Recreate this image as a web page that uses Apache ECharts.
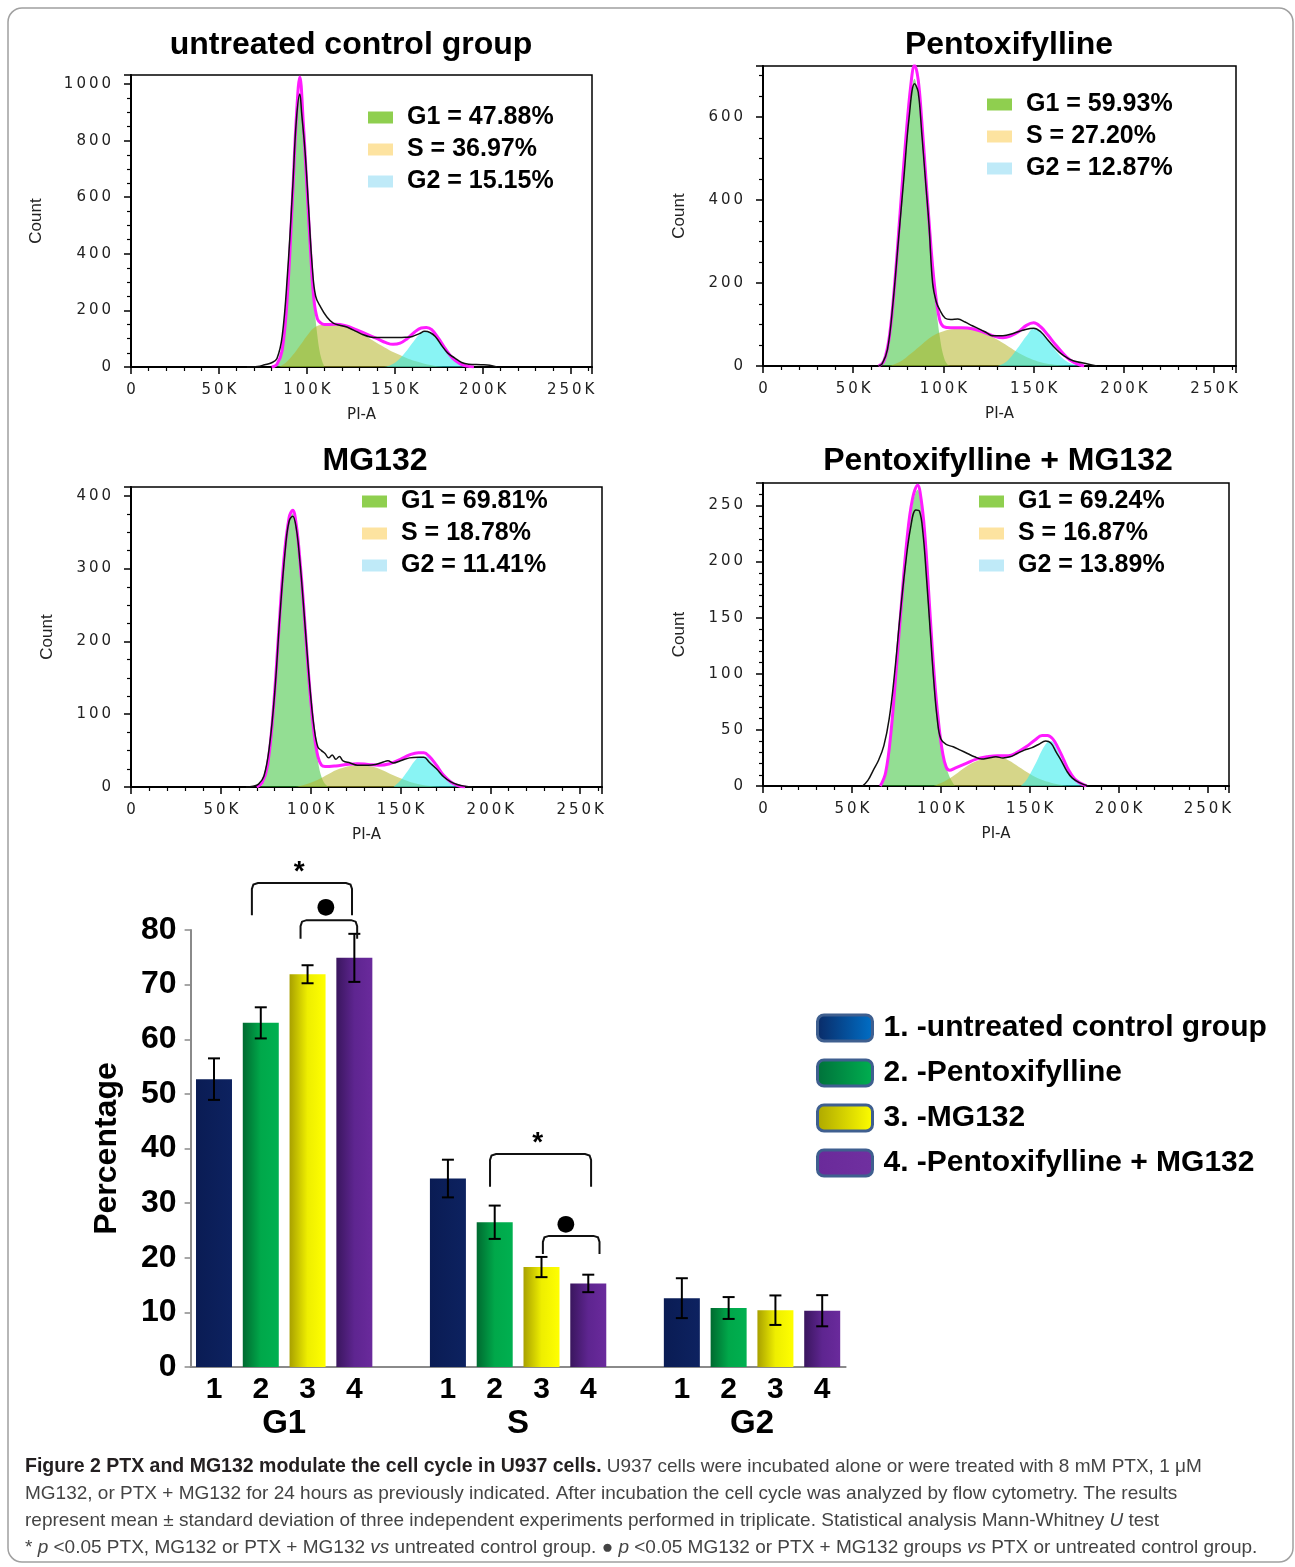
<!DOCTYPE html>
<html>
<head>
<meta charset="utf-8">
<title>PTX and MG132 modulate the cell cycle</title>
<script src="https://cdn.jsdelivr.net/npm/echarts@6/dist/echarts.min.js"></script>
<style>
html, body { margin: 0; padding: 0; background: #fff; }
#chart { width: 1295px; height: 1567px; }
</style>
</head>
<body>
<div id="chart"></div>
<script>
'use strict';

// ---- flow cytometry histograms (x = PI-A in K, y = count) ----
const histTitles = ['untreated control group', 'Pentoxifylline', 'MG132', 'Pentoxifylline + MG132'];
const histPhaseText = [
    ['G1 = 47.88%', 'S = 36.97%', 'G2 = 15.15%'],
    ['G1 = 59.93%', 'S = 27.20%', 'G2 = 12.87%'],
    ['G1 = 69.81%', 'S = 18.78%', 'G2 = 11.41%'],
    ['G1 = 69.24%', 'S = 16.87%', 'G2 = 13.89%']
];
const histYMax = [1032, 723, 412, 270];
const histYStep = [200, 200, 100, 50];
const histYMinor = [4, 4, 4, 5];
const xTicksK = [0, 50, 100, 150, 200, 250];

// untreated control
const ctlG1 = [[82,0],[85,40],[88,200],[90,420],[92,650],[94,860],[96,960],[98,830],[100,640],[102,430],[104,240],[106,110],[108,35],[110,0]];
const ctlS = [[84,0],[88,15],[92,42],[96,75],[100,110],[104,138],[108,148],[114,150],[120,146],[126,136],[132,115],[138,92],[144,70],[150,50],[156,34],[162,20],[168,10],[174,3],[178,0]];
const ctlG2 = [[144,0],[148,8],[152,25],[156,52],[160,85],[164,115],[167,127],[170,122],[174,96],[178,66],[182,38],[186,17],[190,4],[193,0]];
const ctlFit = [[80,0],[83,10],[86,60],[89,260],[92,620],[94,880],[96,1025],[98,860],[100,640],[102,420],[104,240],[106,170],[108,155],[110,150],[116,151],[122,146],[128,132],[134,116],[140,100],[145,86],[149,80],[153,84],[157,100],[161,122],[165,138],[168,140],[171,132],[175,100],[179,62],[183,30],[187,12],[191,3],[195,0]];
const ctlRaw = [[66,0],[72,2],[76,8],[80,15],[83,30],[86,110],[89,330],[92,640],[94,870],[96,965],[97,900],[99,760],[101,560],[103,360],[105,250],[108,210],[111,180],[115,155],[120,146],[124,138],[128,126],[132,114],[136,106],[140,104],[146,104],[152,104],[156,105],[160,108],[164,118],[167,126],[170,122],[173,108],[177,73],[180,50],[184,32],[188,16],[192,10],[199,8],[204,6],[208,0]];

// pentoxifylline
const ptxG1 = [[65,0],[68,20],[71,90],[73,190],[75,300],[77,400],[79,500],[81,600],[84,692],[86,650],[88,540],[90,430],[92,330],[94,220],[96,140],[98,70],[100,25],[102,5],[104,0]];
const ptxS = [[70,0],[76,10],[82,30],[88,52],[94,72],[100,84],[106,89],[112,90],[118,87],[124,77],[130,63],[136,47],[142,31],[148,18],[154,9],[160,4],[166,1],[170,0]];
const ptxG2 = [[130,0],[134,8],[138,25],[142,48],[146,72],[150,90],[153,88],[156,74],[160,50],[164,28],[168,12],[172,4],[176,0]];
const ptxFit = [[64,0],[67,12],[70,70],[73,200],[76,370],[79,540],[82,680],[84,725],[86,690],[88,590],[90,470],[92,350],[94,240],[96,160],[98,110],[100,95],[104,92],[110,92],[116,90],[122,82],[128,72],[133,68],[137,72],[142,84],[146,98],[150,104],[154,94],[158,74],[162,52],[166,32],[170,15],[174,5],[178,0]];
const ptxRaw = [[64,0],[66,5],[69,40],[72,150],[75,300],[78,450],[81,600],[84,680],[86,660],[88,560],[90,450],[92,340],[94,200],[96,155],[98,135],[101,115],[104,112],[108,113],[112,106],[116,97],[120,89],[124,80],[127,73],[133,73],[139,79],[144,86],[150,91],[154,82],[158,62],[161,47],[164,34],[167,24],[170,16],[174,10],[180,5],[185,0]];

// MG132
const mgG1 = [[72,0],[74,8],[76,30],[79,100],[82,200],[85,305],[88,365],[90,376],[92,355],[94,310],[96,250],[98,180],[100,118],[102,70],[104,36],[106,14],[108,4],[110,0]];
const mgS = [[92,0],[98,4],[104,10],[110,18],[116,25],[122,29],[128,30],[134,28],[140,23],[146,16],[152,10],[158,5],[164,2],[172,0]];
const mgG2 = [[146,0],[150,9],[154,22],[158,36],[161,42],[164,42],[167,35],[170,25],[174,13],[178,6],[182,2],[186,0]];
const mgFit = [[70,0],[73,6],[76,30],[79,100],[82,205],[85,310],[88,370],[90,380],[92,360],[94,312],[96,252],[98,182],[100,120],[102,72],[104,42],[106,30],[108,28],[114,29],[120,31],[126,32],[132,31],[138,30],[144,32],[150,38],[155,44],[160,47],[163,47],[166,42],[170,30],[174,16],[178,7],[182,2],[186,0]];
const mgRaw = [[64,0],[68,1],[71,4],[74,15],[77,55],[80,130],[83,240],[86,330],[88,365],[90,372],[92,355],[94,310],[96,250],[98,185],[100,125],[102,80],[104,55],[106,50],[108,46],[110,40],[112,44],[114,38],[116,42],[118,36],[122,33],[126,30],[132,30],[136,31],[140,34],[143,36],[146,33],[150,36],[155,40],[160,41],[163,41],[166,34],[170,25],[174,14],[178,7],[182,3],[186,1],[190,0]];

// pentoxifylline + MG132
const cmbG1 = [[66,0],[69,10],[72,45],[75,100],[78,160],[81,215],[84,250],[87,264],[89,250],[91,222],[93,175],[95,122],[97,80],[99,50],[101,32],[103,18],[105,8],[108,0]];
const cmbS = [[96,0],[102,4],[108,10],[114,17],[120,22],[126,25],[132,26],[138,23],[144,17],[150,11],[156,6],[162,3],[168,1],[172,0]];
const cmbG2 = [[145,0],[148,5],[151,13],[154,22],[157,32],[160,39],[162,40],[165,34],[168,24],[171,15],[174,8],[177,3],[180,1],[182,0]];
const cmbFit = [[66,0],[69,12],[72,48],[75,105],[78,165],[81,220],[84,255],[87,268],[89,255],[91,225],[93,178],[95,128],[97,85],[99,53],[101,30],[103,17],[105,14],[108,16],[114,20],[120,24],[126,26],[132,27],[138,27],[143,30],[148,35],[153,41],[157,45],[160,45],[163,42],[166,34],[169,24],[172,14],[175,7],[178,3],[182,0]];
const cmbRaw = [[56,0],[59,5],[62,14],[65,23],[68,36],[71,60],[74,100],[77,150],[80,195],[83,230],[86,246],[88,245],[90,225],[92,185],[94,140],[96,95],[98,60],[100,42],[103,37],[107,35],[111,32],[115,29],[119,26],[123,24],[127,25],[131,26],[135,25],[139,26],[143,29],[147,32],[151,34],[155,37],[159,40],[162,38],[165,30],[168,22],[171,13],[174,7],[178,3],[183,0]];

const histG1 = [ctlG1, ptxG1, mgG1, cmbG1];
const histS = [ctlS, ptxS, mgS, cmbS];
const histG2 = [ctlG2, ptxG2, mgG2, cmbG2];
const histFit = [ctlFit, ptxFit, mgFit, cmbFit];
const histRaw = [ctlRaw, ptxRaw, mgRaw, cmbRaw];

// ---- summary bar chart (percentage of cells per phase) ----
const phases = ['G1', 'S', 'G2'];
const treatments = ['1. -untreated control group', '2. -Pentoxifylline', '3. -MG132', '4. -Pentoxifylline + MG132'];
const meanCtl = [52.7, 34.5, 12.6];
const meanPtx = [63.0, 26.5, 10.8];
const meanMg = [71.9, 18.3, 10.4];
const meanCmb = [74.9, 15.3, 10.3];
const sdCtl = [3.8, 3.45, 3.65];
const sdPtx = [2.85, 3.05, 2.0];
const sdMg = [1.65, 1.85, 2.7];
const sdCmb = [4.4, 1.6, 2.85];
const means = [meanCtl, meanPtx, meanMg, meanCmb];
const sds = [sdCtl, sdPtx, sdMg, sdCmb];
const yTicksPct = [0, 10, 20, 30, 40, 50, 60, 70, 80];

// significance brackets, in slot / percentage units
const brackets = [
    {from: 0.81, to: 2.95, top: 88.6, foot: 82.7, mark: '*', markX: 1.82, markY: 90.6},
    {from: 1.85, to: 3.06, top: 81.8, foot: 78.4, mark: '●', markX: 2.39, markY: 84.2},
    {from: 5.90, to: 8.06, top: 39.0, foot: 33.0, mark: '*', markX: 6.92, markY: 41.0},
    {from: 7.03, to: 8.24, top: 24.0, foot: 20.7, mark: '●', markX: 7.52, markY: 26.1}
];

// ---- layout / style ----
const histGrids = [
    {left: 131, top: 75, width: 461, height: 292},
    {left: 763, top: 66, width: 473, height: 300},
    {left: 131, top: 487, width: 471, height: 300},
    {left: 763, top: 483, width: 466, height: 303}
];
const histTitlePos = [[346, 24], [1004, 24], [370, 440], [993, 440]];
const histLegendPos = [[368, 103], [987, 90], [362, 487], [979, 487]];
const histNameGap = [86, 75, 75, 75];
const fillColors = ['rgba(40,190,40,0.5)', 'rgba(180,180,40,0.55)', 'rgba(40,235,235,0.55)'];
const swatchColors = ['#8fcf4f', '#fde3a0', '#bfeaf8'];
const barGrid = {left: 190.6, top: 930, width: 655, height: 437};

const ARIAL = '"Liberation Sans", Arial, sans-serif';
const FLOW = '"DejaVu Sans", sans-serif';

function spaced(s) {
    return s.split('').join('\u2009');
}

function grad(stops) {
    return {
        type: 'linear', x: 0, y: 0, x2: 1, y2: 0,
        colorStops: stops.map((c, i) => ({offset: i / (stops.length - 1), color: c}))
    };
}

const barColors = [
    grad(['#0a1c54', '#0d2260']),
    grad(['#006a30', '#00a84a', '#00b050']),
    grad(['#a8a000', '#eeee00', '#ffff00']),
    grad(['#3a165e', '#5e2590', '#6a2a9c'])
];
const swatchFill = [
    grad(['#0a2a66', '#0070c8']),
    grad(['#00703a', '#00b050']),
    grad(['#aca600', '#ffff00']),
    grad(['#6a2a9a', '#7030a0'])
];

// category slots: 4 bars per phase with one empty slot between phases
const slots = [];
phases.forEach((p, g) => {
    treatments.forEach((t, s) => slots.push(p + '-' + (s + 1)));
    if (g < phases.length - 1) slots.push(p + '-gap');
});
const slotOf = (g, s) => g * (treatments.length + 1) + s;

const series = [];
const titles = [];
const legends = [];
const xAxes = [];
const yAxes = [];
const grids = [];

histGrids.forEach((g, i) => {
    grids.push(Object.assign({show: true, borderColor: '#000', borderWidth: 1.5, outerBoundsMode: 'none'}, g));
    titles.push({
        text: histTitles[i], left: histTitlePos[i][0], top: histTitlePos[i][1], textAlign: 'center',
        textStyle: {fontFamily: ARIAL, fontWeight: 'bold', fontSize: 32, color: '#000'}
    });
    legends.push({
        left: histLegendPos[i][0], top: histLegendPos[i][1], orient: 'vertical', icon: 'rect',
        itemWidth: 25, itemHeight: 12, itemGap: 3, selectedMode: false, padding: 0,
        textStyle: {fontFamily: ARIAL, fontWeight: 'bold', fontSize: 25, color: '#000', lineHeight: 29, padding: [0, 0, 0, 9]},
        data: histPhaseText[i].map((n, k) => ({name: n, itemStyle: {color: swatchColors[k], borderWidth: 0}}))
    });
    xAxes.push({
        gridIndex: i, type: 'value', min: 0, max: 262.144, interval: 50,
        name: 'PI-A', nameLocation: 'middle', nameGap: 41,
        nameTextStyle: {fontFamily: FLOW, fontSize: 15, color: '#222'},
        axisLine: {lineStyle: {color: '#000', width: 2}},
        axisTick: {length: 7, lineStyle: {color: '#000', width: 1.5}},
        minorTick: {show: true, splitNumber: 5, length: 4, lineStyle: {color: '#000', width: 1.2}},
        splitLine: {show: false},
        axisLabel: {
            margin: 16, fontFamily: FLOW, fontSize: 15, color: '#222',
            formatter: v => xTicksK.indexOf(v) >= 0 ? spaced(v === 0 ? '0' : v + 'K') : ''
        }
    });
    const step = histYStep[i];
    yAxes.push({
        gridIndex: i, type: 'value', min: 0, max: histYMax[i], interval: step,
        name: 'Count', nameLocation: 'middle', nameRotate: 90, nameGap: histNameGap[i],
        nameTextStyle: {fontFamily: ARIAL, fontSize: 17, color: '#222'},
        axisLine: {lineStyle: {color: '#000', width: 2}},
        axisTick: {length: 7, lineStyle: {color: '#000', width: 1.5}},
        minorTick: {show: true, splitNumber: histYMinor[i], length: 4, lineStyle: {color: '#000', width: 1.2}},
        splitLine: {show: false},
        axisLabel: {
            margin: 20, fontFamily: FLOW, fontSize: 15, color: '#222',
            formatter: v => v % step === 0 ? spaced(String(v)) : ''
        }
    });
    const base = {type: 'line', xAxisIndex: i, yAxisIndex: i, smooth: 0.4, showSymbol: false, silent: true};
    [histG1[i], histS[i], histG2[i]].forEach((d, k) => {
        series.push(Object.assign({}, base, {
            name: histPhaseText[i][k], data: d, z: 2 + k,
            lineStyle: {width: 0}, itemStyle: {color: swatchColors[k]},
            areaStyle: {color: fillColors[k], opacity: 1}
        }));
    });
    series.push(Object.assign({}, base, {name: 'fit ' + i, data: histFit[i], z: 6, lineStyle: {color: '#ff1cff', width: 3}}));
    series.push(Object.assign({}, base, {name: 'raw ' + i, data: histRaw[i], z: 7, lineStyle: {color: '#111', width: 1.5}}));
});

// bar chart grid = index 4
const B = histGrids.length;
grids.push(Object.assign({outerBoundsMode: 'none'}, barGrid));
xAxes.push({
    gridIndex: B, type: 'category', data: slots, position: 'bottom',
    axisLine: {onZero: false, lineStyle: {color: '#8a8a8a', width: 2}},
    axisTick: {show: false},
    axisLabel: {
        interval: 0, margin: 8, fontFamily: ARIAL, fontWeight: 'bold', fontSize: 30, color: '#000',
        formatter: v => v.endsWith('gap') ? '' : v.split('-')[1]
    }
});
xAxes.push({
    gridIndex: B, type: 'value', position: 'bottom', min: -0.5, max: slots.length - 0.5, interval: 1,
    axisLine: {show: false, onZero: false}, axisTick: {show: false}, splitLine: {show: false},
    axisLabel: {
        margin: 40, fontFamily: ARIAL, fontWeight: 'bold', fontSize: 33, color: '#000',
        formatter: v => {
            const g = phases.findIndex((p, k) => slotOf(k, 1.5) === v);
            return g >= 0 ? phases[g] : '';
        }
    }
});
yAxes.push({
    gridIndex: B, type: 'value', min: 0, max: 80, interval: 10, position: 'left',
    name: 'Percentage', nameLocation: 'middle', nameRotate: 90, nameGap: 67,
    nameTextStyle: {fontFamily: ARIAL, fontWeight: 'bold', fontSize: 32, color: '#000'},
    axisLine: {show: true, onZero: false, lineStyle: {color: '#8a8a8a', width: 2}},
    axisTick: {show: true, length: 6, lineStyle: {color: '#8a8a8a', width: 1.5}},
    splitLine: {show: false},
    axisLabel: {
        margin: 14, fontFamily: ARIAL, fontWeight: 'bold', fontSize: 32, color: '#000',
        formatter: v => yTicksPct.indexOf(v) >= 0 ? String(v) : ''
    }
});

treatments.forEach((t, s) => {
    const data = slots.map(() => '-');
    phases.forEach((p, g) => { data[slotOf(g, s)] = means[s][g]; });
    series.push({
        type: 'bar', name: t, xAxisIndex: B, yAxisIndex: B, data: data,
        barWidth: 36, barGap: '-100%', silent: true,
        itemStyle: {color: barColors[s]}
    });
});

const errData = [];
treatments.forEach((t, s) => {
    phases.forEach((p, g) => {
        errData.push([slotOf(g, s), means[s][g] - sds[s][g], means[s][g] + sds[s][g]]);
    });
});
series.push({
    type: 'custom', name: 'sd', xAxisIndex: B + 1, yAxisIndex: B, data: errData, z: 10, silent: true,
    encode: {x: 0, y: [1, 2]},
    renderItem: (params, api) => {
        const lo = api.coord([api.value(0), api.value(1)]);
        const hi = api.coord([api.value(0), api.value(2)]);
        const cap = 6;
        const st = {stroke: '#000', lineWidth: 2};
        return {
            type: 'group', children: [
                {type: 'line', shape: {x1: hi[0], y1: hi[1], x2: lo[0], y2: lo[1]}, style: st},
                {type: 'line', shape: {x1: hi[0] - cap, y1: hi[1], x2: hi[0] + cap, y2: hi[1]}, style: st},
                {type: 'line', shape: {x1: lo[0] - cap, y1: lo[1], x2: lo[0] + cap, y2: lo[1]}, style: st}
            ]
        };
    }
});

series.push({
    type: 'custom', name: 'significance', xAxisIndex: B + 1, yAxisIndex: B, z: 11, silent: true, clip: false,
    data: brackets.map(b => [b.from, b.to, b.top, b.foot]),
    encode: {x: [0, 1], y: [2, 3]},
    renderItem: (params, api) => {
        const b = brackets[params.dataIndex];
        const a = api.coord([b.from, b.foot]);
        const c = api.coord([b.from, b.top]);
        const d = api.coord([b.to, b.top]);
        const e = api.coord([b.to, b.foot]);
        const m = api.coord([b.markX, b.markY]);
        const r = 6;
        const pts = [
            a, [c[0], c[1] + r], [c[0] + 1.5, c[1] + 1.5], [c[0] + r, c[1]],
            [d[0] - r, d[1]], [d[0] - 1.5, d[1] + 1.5], [d[0], d[1] + r], e
        ];
        const star = b.mark === '*';
        return {
            type: 'group', children: [
                {type: 'polyline', shape: {points: pts}, style: {stroke: '#111', lineWidth: 2, fill: null}},
                {type: 'text', x: m[0], y: m[1], style: {
                    text: b.mark, fontFamily: star ? ARIAL : FLOW, fontWeight: 'bold',
                    fontSize: star ? 28 : 22, fill: '#000', align: 'center', verticalAlign: 'middle'
                }}
            ]
        };
    }
});

legends.push({
    left: 816, top: 1013, orient: 'vertical', icon: 'roundRect',
    itemWidth: 55, itemHeight: 26, itemGap: 15, selectedMode: false, padding: 0,
    textStyle: {fontFamily: ARIAL, fontWeight: 'bold', fontSize: 30, color: '#000', lineHeight: 30, padding: [0, 0, 0, 6]},
    data: treatments.map((t, s) => ({
        name: t, itemStyle: {color: swatchFill[s], borderColor: '#3f5f8f', borderWidth: 3}
    }))
});

// caption
const capStyle = {fontFamily: ARIAL, fontWeight: 'normal', fontSize: 19, lineHeight: 27, color: '#444'};
const captionLines = [
    '{b|Figure 2 PTX and MG132 modulate the cell cycle in U937 cells.}{n| U937 cells were incubated alone or were treated with 8 mM PTX, 1 μM}',
    '{n|MG132, or PTX + MG132 for 24 hours as previously indicated. After incubation the cell cycle was analyzed by flow cytometry. The results}',
    '{n|represent mean ± standard deviation of three independent experiments performed in triplicate. Statistical analysis Mann-Whitney }{i|U}{n| test}',
    '{n|* }{i|p}{n| <0.05 PTX, MG132 or PTX + MG132 }{i|vs}{n| untreated control group. ● }{i|p}{n| <0.05 MG132 or PTX + MG132 groups }{i|vs}{n| PTX or untreated control group.}'
];
titles.push({
    left: 25, top: 1453, padding: 0, text: captionLines.join('\n'),
    textStyle: {
        fontWeight: 'normal',
        rich: {
            b: Object.assign({}, capStyle, {fontWeight: 'bold', fontSize: 19.5, color: '#231f20'}),
            n: capStyle,
            i: Object.assign({}, capStyle, {fontStyle: 'italic'})
        }
    }
});

const chart = echarts.init(document.getElementById('chart'), null, {renderer: 'canvas'});
chart.setOption({
    animation: false,
    backgroundColor: '#fff',
    title: titles,
    legend: legends,
    grid: grids,
    xAxis: xAxes,
    yAxis: yAxes,
    series: series,
    graphic: [{
        type: 'rect', silent: true, z: -1,
        shape: {x: 8, y: 8, width: 1285, height: 1554, r: 14},
        style: {fill: null, stroke: '#a0a0a0', lineWidth: 1.5}
    }]
});
</script>
</body>
</html>
